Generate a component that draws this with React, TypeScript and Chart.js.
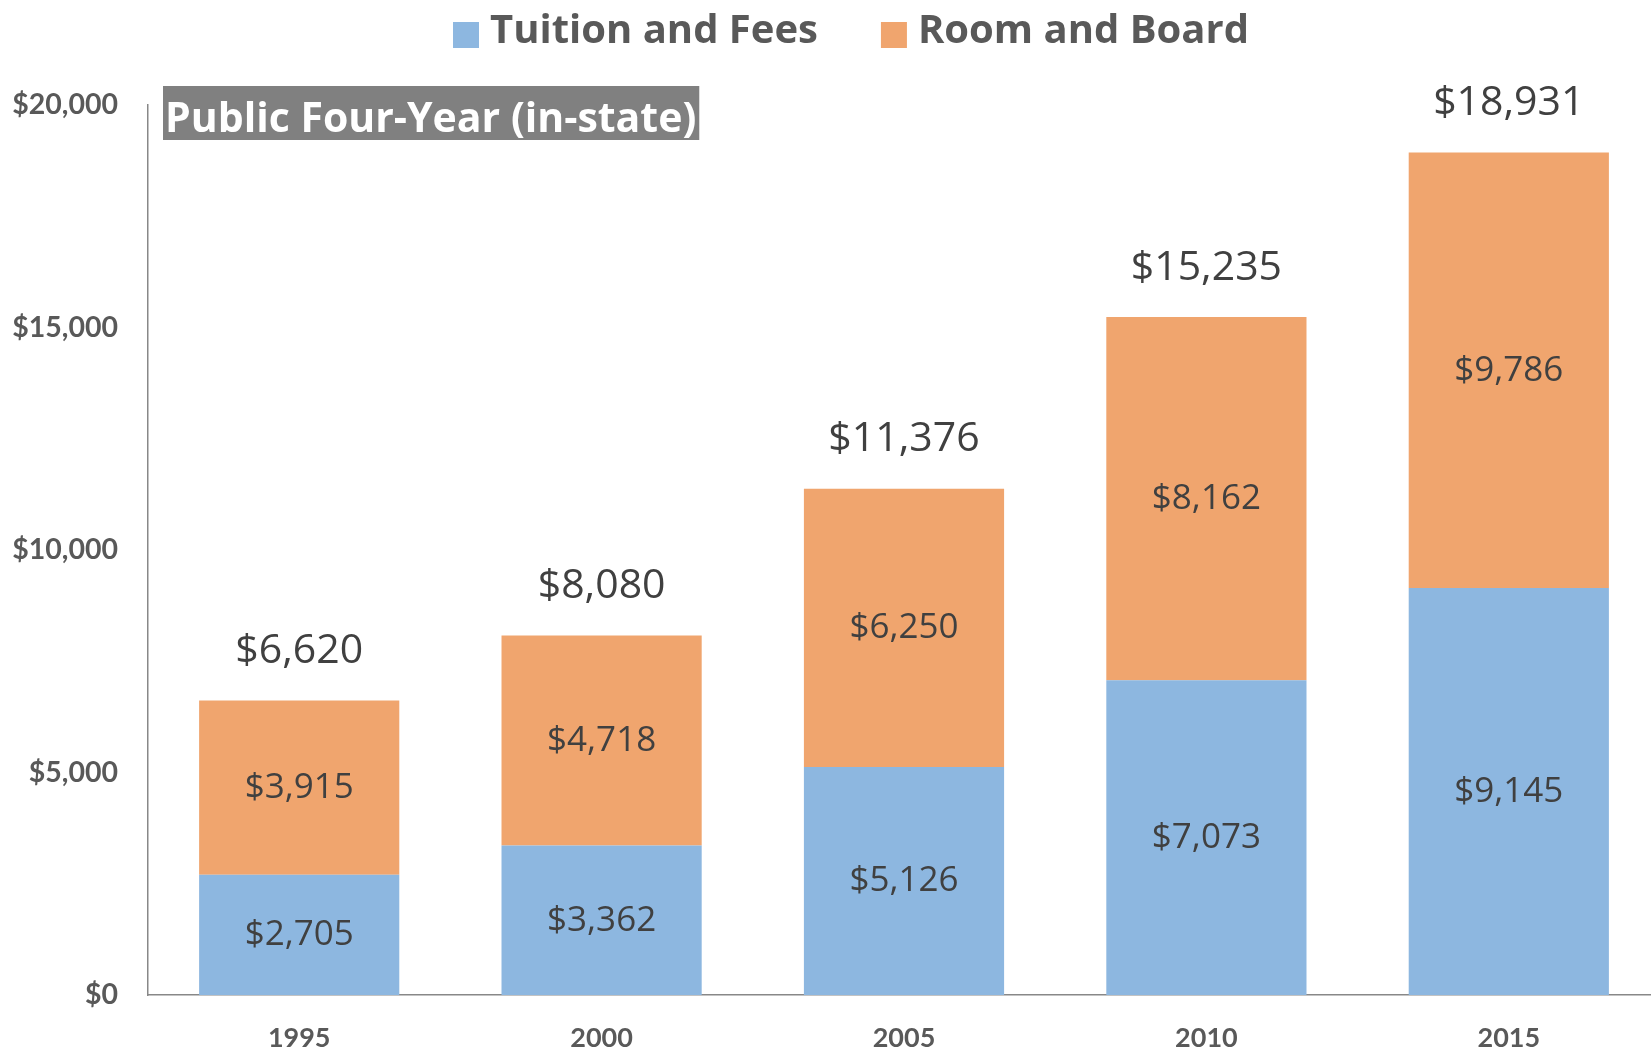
import React, { useEffect, useRef } from "react";
import { Chart, registerables } from "chart.js";

Chart.register(...registerables);

const categories = ["1995", "2000", "2005", "2010", "2015"];
const tuitionFees = [2705, 3362, 5126, 7073, 9145];
const roomBoard = [3915, 4718, 6250, 8162, 9786];
const totals = [6620, 8080, 11376, 15235, 18931];
const yTicks = [0, 5000, 10000, 15000, 20000];
const seriesNames = ["Tuition and Fees", "Room and Board"];
const chartTitle = "Public Four-Year (in-state)";

const BLUE = "#8DB7E0";
const ORANGE = "#F0A56E";
const AXIS_TEXT = "#595959";
const LABEL_TEXT = "#404040";
const AXIS_LINE = "#888888";

const fmt = (v: number) => "$" + v.toLocaleString("en-US");

const overlayPlugin = {
  id: "overlay",
  afterDatasetsDraw(chart: any) {
    const ctx = chart.ctx as CanvasRenderingContext2D;
    ctx.save();
    ctx.textAlign = "center";
    ctx.textBaseline = "alphabetic";
    ctx.fillStyle = LABEL_TEXT;
    const segSize = 35;
    ctx.font = `${segSize}px "Open Sans"`;
    chart.data.datasets.forEach((ds: any, di: number) => {
      const meta = chart.getDatasetMeta(di);
      meta.data.forEach((bar: any, i: number) => {
        const p = bar.getProps(["x", "y", "base"], true);
        const cy = (p.y + p.base) / 2;
        ctx.fillText(fmt(ds.data[i]), p.x, cy - 2 + segSize * 0.357);
      });
    });
    const totSize = 41;
    ctx.font = `${totSize}px "Open Sans"`;
    const topMeta = chart.getDatasetMeta(1);
    topMeta.data.forEach((bar: any, i: number) => {
      const yTop = chart.scales.y.getPixelForValue(totals[i]);
      ctx.fillText(fmt(totals[i]), bar.x, yTop - 52 + totSize * 0.357);
    });
    ctx.restore();
  },
  afterDraw(chart: any) {
    const ctx = chart.ctx as CanvasRenderingContext2D;
    ctx.save();
    // title box
    ctx.font = `bold 41px "Open Sans"`;
    const tw = ctx.measureText(chartTitle).width;
    ctx.fillStyle = "#808080";
    ctx.fillRect(163, 86, tw + 5, 54);
    ctx.fillStyle = "#FFFFFF";
    ctx.textAlign = "left";
    ctx.textBaseline = "alphabetic";
    ctx.fillText(chartTitle, 165, 131.5);
    // legend
    ctx.font = `bold 40px "Open Sans"`;
    const colors = [BLUE, ORANGE];
    let x = 453;
    seriesNames.forEach((name, i) => {
      ctx.fillStyle = colors[i];
      ctx.fillRect(x, 22, 26, 26);
      ctx.fillStyle = AXIS_TEXT;
      ctx.fillText(name, x + 37, 43);
      x = x + 37 + ctx.measureText(name).width + 63;
    });
    ctx.restore();
  },
};

export default function App() {
  const canvasRef = useRef<HTMLCanvasElement | null>(null);

  useEffect(() => {
    if (!canvasRef.current) return;
    const chart = new Chart(canvasRef.current, {
      type: "bar",
      data: {
        labels: categories,
        datasets: [
          {
            label: seriesNames[0],
            data: tuitionFees,
            backgroundColor: BLUE,
            borderWidth: 0,
            categoryPercentage: 1,
            barPercentage: 0.662,
          },
          {
            label: seriesNames[1],
            data: roomBoard,
            backgroundColor: ORANGE,
            borderWidth: 0,
            categoryPercentage: 1,
            barPercentage: 0.662,
          },
        ],
      },
      options: {
        responsive: false,
        maintainAspectRatio: false,
        devicePixelRatio: 1,
        animation: false,
        layout: { padding: { top: 105, left: 0, right: 0, bottom: 0 } },
        plugins: {
          legend: { display: false },
          tooltip: { enabled: false },
          title: { display: false },
        },
        scales: {
          x: {
            stacked: true,
            grid: { display: false, drawTicks: false },
            border: { display: true, color: AXIS_LINE, width: 1.5 },
            ticks: {
              color: AXIS_TEXT,
              font: { family: "Lato", weight: "bold", size: 27 },
              padding: 27,
              maxRotation: 0,
              autoSkip: false,
            },
            afterFit: (s: any) => {
              s.height = 55;
            },
          },
          y: {
            stacked: true,
            min: 0,
            max: 20000,
            afterBuildTicks: (s: any) => {
              s.ticks = yTicks.map((v) => ({ value: v }));
            },
            grid: { display: false, drawTicks: false },
            border: { display: true, color: AXIS_LINE, width: 1.5 },
            ticks: {
              color: AXIS_TEXT,
              font: { family: "Lato", weight: "bold", size: 28.5 },
              padding: 30,
              callback: (v: any) => fmt(Number(v)),
            },
            afterFit: (s: any) => {
              s.width = 148;
            },
          },
        },
      },
      plugins: [overlayPlugin],
    });
    return () => chart.destroy();
  }, []);

  return (
    <div
      style={{
        position: "fixed",
        left: 0,
        top: 0,
        width: 1651,
        height: 1050,
        overflow: "hidden",
        background: "#FFFFFF",
      }}
    >
      <canvas ref={canvasRef} width={1660} height={1050} style={{ display: "block" }} />
    </div>
  );
}
